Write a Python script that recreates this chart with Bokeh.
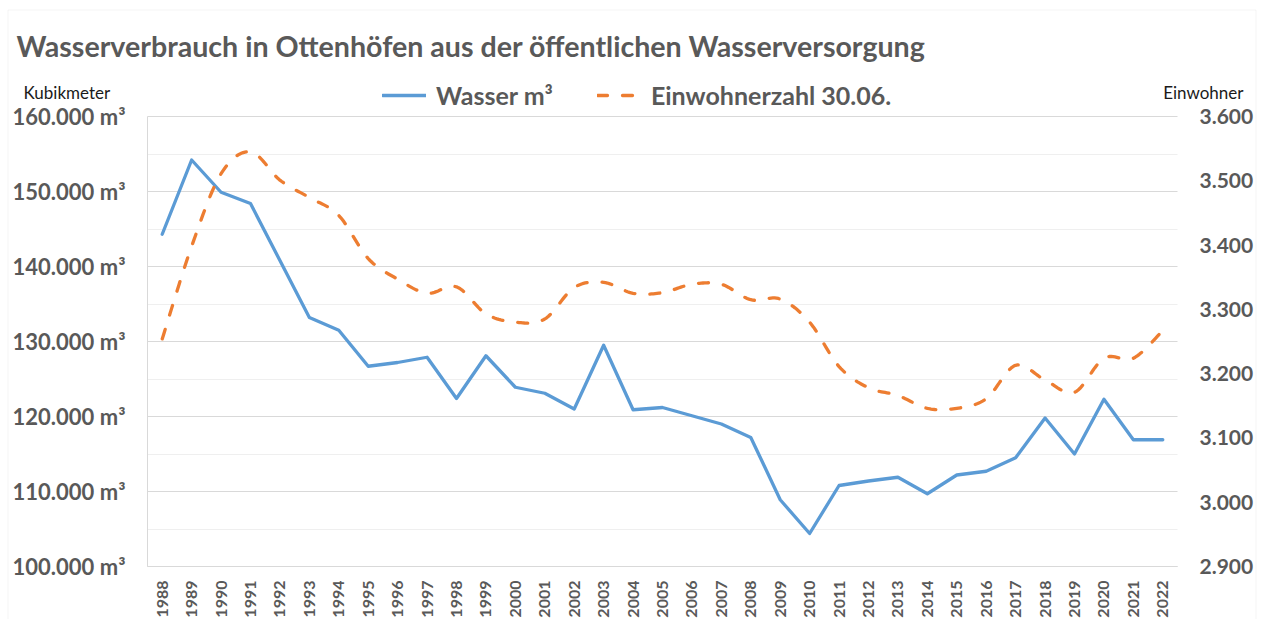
import numpy as np
from bokeh.plotting import figure
from bokeh.models import (Range1d, LinearAxis, FixedTicker, Label, Legend, LegendItem,
                          Grid, BoxAnnotation)
from bokeh.embed import file_html
from bokeh.resources import INLINE

# ---------------- data ----------------
years = list(range(1988, 2023))
wasser = [144300, 154200, 149900, 148400, 140800, 133200, 131500, 126700, 127200,
          127900, 122400, 128100, 123900, 123100, 121000, 129500, 120900, 121200,
          120100, 119000, 117200, 108900, 104400, 110800, 111400, 111900, 109700,
          112200, 112700, 114500, 119800, 115000, 122300, 116900, 116900]
einwohner = [3254, 3398, 3511, 3545, 3501, 3474, 3446, 3379, 3347, 3325, 3335,
             3293, 3280, 3285, 3334, 3342, 3325, 3326, 3339, 3339, 3315, 3316,
             3280, 3211, 3178, 3166, 3146, 3146, 3161, 3213, 3190, 3171, 3224,
             3224, 3267]

left_ticks = [100000, 110000, 120000, 130000, 140000, 150000, 160000]
left_minor = [105000, 115000, 125000, 135000, 145000, 155000]
left_labels = ["100.000 m³", "110.000 m³", "120.000 m³", "130.000 m³",
               "140.000 m³", "150.000 m³", "160.000 m³"]
right_ticks = [2900, 3000, 3100, 3200, 3300, 3400, 3500, 3600]
right_labels = ["2.900", "3.000", "3.100", "3.200", "3.300", "3.400", "3.500", "3.600"]

title_text = "Wasserverbrauch in Ottenhöfen aus der öffentlichen Wasserversorgung"
series_names = ["Wasser m³", "Einwohnerzahl 30.06."]
left_unit = "Kubikmeter"
right_unit = "Einwohner"

# ---------------- style / layout ----------------
BLUE = "#5B9BD5"
ORANGE = "#ED7D31"
GRAY = "#595959"
GRID_MAJOR = "#d9d9d9"
GRID_MINOR = "#efefef"
FONT = "Lato"

W, H = 1263, 619                 # canvas
FL, FR, FT, FB = 147, 1177, 116, 566   # plot area in canvas pixels


def smooth(xs, ys, n=16):
    """Bezier smoothing through the points (like a spreadsheet 'smoothed line')."""
    x = np.asarray(xs, float)
    y = np.asarray(ys, float)
    px = np.concatenate([[x[0]], x, [x[-1]]])
    py = np.concatenate([[y[0]], y, [y[-1]]])
    t = np.linspace(0, 1, n, endpoint=False)
    ox, oy = [], []
    for i in range(len(x) - 1):
        p0 = np.array([px[i], py[i]])
        p1 = np.array([px[i + 1], py[i + 1]])
        p2 = np.array([px[i + 2], py[i + 2]])
        p3 = np.array([px[i + 3], py[i + 3]])
        c1 = p1 + (p2 - p0) / 6.0
        c2 = p2 - (p3 - p1) / 6.0
        b = ((1 - t) ** 3)[:, None] * p1 + (3 * (1 - t) ** 2 * t)[:, None] * c1 \
            + (3 * (1 - t) * t ** 2)[:, None] * c2 + (t ** 3)[:, None] * p2
        ox.extend(b[:, 0])
        oy.extend(b[:, 1])
    ox.append(x[-1])
    oy.append(y[-1])
    return ox, oy


# data extents of the plot area
x_lo, x_hi = years[0] - 0.5, years[-1] + 0.5
y_lo, y_hi = left_ticks[0], left_ticks[-1]
r_lo, r_hi = right_ticks[0], right_ticks[-1]

# ranges stretched so that the plot area lands at FL..FR / FT..FB on the canvas
xs = (x_hi - x_lo) / (FR - FL)
ys = (y_hi - y_lo) / (FB - FT)
rs = (r_hi - r_lo) / (FB - FT)

p = figure(width=W, height=H, output_backend="svg", toolbar_location=None,
           x_range=Range1d(x_lo - FL * xs, x_hi + (W - FR) * xs),
           y_range=Range1d(y_lo - (H - FB) * ys, y_hi + FT * ys),
           x_axis_location=None, y_axis_location=None,
           min_border=0, title=None)
p.outline_line_color = None
p.background_fill_color = "white"
p.border_fill_color = "white"
for g in p.grid:
    g.visible = False

p.extra_y_ranges = {"ew": Range1d(r_lo - (H - FB) * rs, r_hi + FT * rs),
                    "py": Range1d(H, 0)}
p.extra_x_ranges = {"px": Range1d(0, W)}

# outer chart border
p.add_layout(BoxAnnotation(left=7.5, right=1255.5, top=9.5, bottom=H + 20,
                           x_range_name="px", y_range_name="py",
                           fill_alpha=0, line_color=GRID_MAJOR, line_width=1,
                           level="underlay"))

# grid lines (horizontal, left-axis units)
grid_ticker = FixedTicker(ticks=left_ticks, minor_ticks=left_minor)
if "cross_bounds" in Grid.properties():
    grid = Grid(dimension=1, ticker=grid_ticker, bounds=(y_lo, y_hi),
                cross_bounds=(x_lo, x_hi),
                grid_line_color=GRID_MAJOR, minor_grid_line_color=GRID_MINOR,
                level="underlay")
    p.add_layout(grid)
else:
    p.segment(x0=x_lo, x1=x_hi, y0=left_minor, y1=left_minor,
              line_color=GRID_MINOR, line_width=1, level="underlay")
    p.segment(x0=x_lo, x1=x_hi, y0=left_ticks, y1=left_ticks,
              line_color=GRID_MAJOR, line_width=1, level="underlay")

# x axis
xa = LinearAxis(fixed_location=y_lo, bounds=(x_lo, x_hi))
xa.ticker = FixedTicker(ticks=years)
xa.major_label_overrides = {y: str(y) for y in years}
xa.major_label_orientation = np.pi / 2
xa.major_label_text_font = FONT
xa.major_label_text_font_style = "bold"
xa.major_label_text_font_size = "16px"
xa.major_label_text_color = GRAY
xa.major_label_standoff = 14
xa.major_tick_out = 0
xa.major_tick_in = 0
xa.minor_tick_out = 0
xa.minor_tick_in = 0
xa.axis_line_color = GRID_MAJOR
p.add_layout(xa, "below")

# left axis
ya = LinearAxis(fixed_location=x_lo, bounds=(y_lo, y_hi))
ya.ticker = FixedTicker(ticks=left_ticks)
ya.major_label_overrides = dict(zip(left_ticks, left_labels))
ya.major_label_text_font = FONT
ya.major_label_text_font_style = "bold"
ya.major_label_text_font_size = "22px"
ya.major_label_text_color = GRAY
ya.major_label_standoff = 22
ya.major_tick_out = 0
ya.major_tick_in = 0
ya.minor_tick_out = 0
ya.minor_tick_in = 0
ya.axis_line_color = GRID_MAJOR
p.add_layout(ya, "left")

# right axis
ra = LinearAxis(y_range_name="ew", fixed_location=x_hi, bounds=(r_lo, r_hi))
ra.ticker = FixedTicker(ticks=right_ticks)
ra.major_label_overrides = dict(zip(right_ticks, right_labels))
ra.major_label_text_font = FONT
ra.major_label_text_font_style = "bold"
ra.major_label_text_font_size = "21px"
ra.major_label_text_color = GRAY
ra.major_label_standoff = 22
ra.major_tick_out = 0
ra.major_tick_in = 0
ra.minor_tick_out = 0
ra.minor_tick_in = 0
ra.axis_line_color = None
p.add_layout(ra, "right")

# lines
r_w = p.line(years, wasser, line_color=BLUE, line_width=3.3, line_join="round",
             line_cap="round")
sx, sy = smooth(years, einwohner)
r_e = p.line(sx, sy, line_color=ORANGE, line_width=3.3, line_dash="10 15",
             line_cap="round", line_join="round", y_range_name="ew")

# legend (location = bottom-left of the legend box, from the canvas bottom-left)
leg = Legend(items=[LegendItem(label=series_names[0], renderers=[r_w]),
                    LegendItem(label=series_names[1], renderers=[r_e])],
             orientation="horizontal", location=(382, H - 110),
             padding=0, margin=0, spacing=44, label_standoff=10,
             glyph_width=44, glyph_height=30, label_height=30,
             label_text_font=FONT, label_text_font_style="bold",
             label_text_font_size="25px", label_text_color=GRAY,
             border_line_color=None, background_fill_alpha=0)
p.add_layout(leg, "center")

# texts (pixel coordinates, y from the top)
p.add_layout(Label(x=16, y=45, x_range_name="px", y_range_name="py", text=title_text,
                   text_font=FONT, text_font_style="bold", text_font_size="28.6px",
                   text_color=GRAY, text_baseline="middle"))
p.add_layout(Label(x=23, y=92, x_range_name="px", y_range_name="py", text=left_unit,
                   text_font=FONT, text_font_size="17px", text_color="#1a1a1a",
                   text_baseline="middle"))
p.add_layout(Label(x=1243, y=92, x_range_name="px", y_range_name="py", text=right_unit,
                   text_font=FONT, text_font_size="17px", text_color="#1a1a1a",
                   text_baseline="middle", text_align="right"))

open("out.html", "w").write(file_html(p, INLINE))
